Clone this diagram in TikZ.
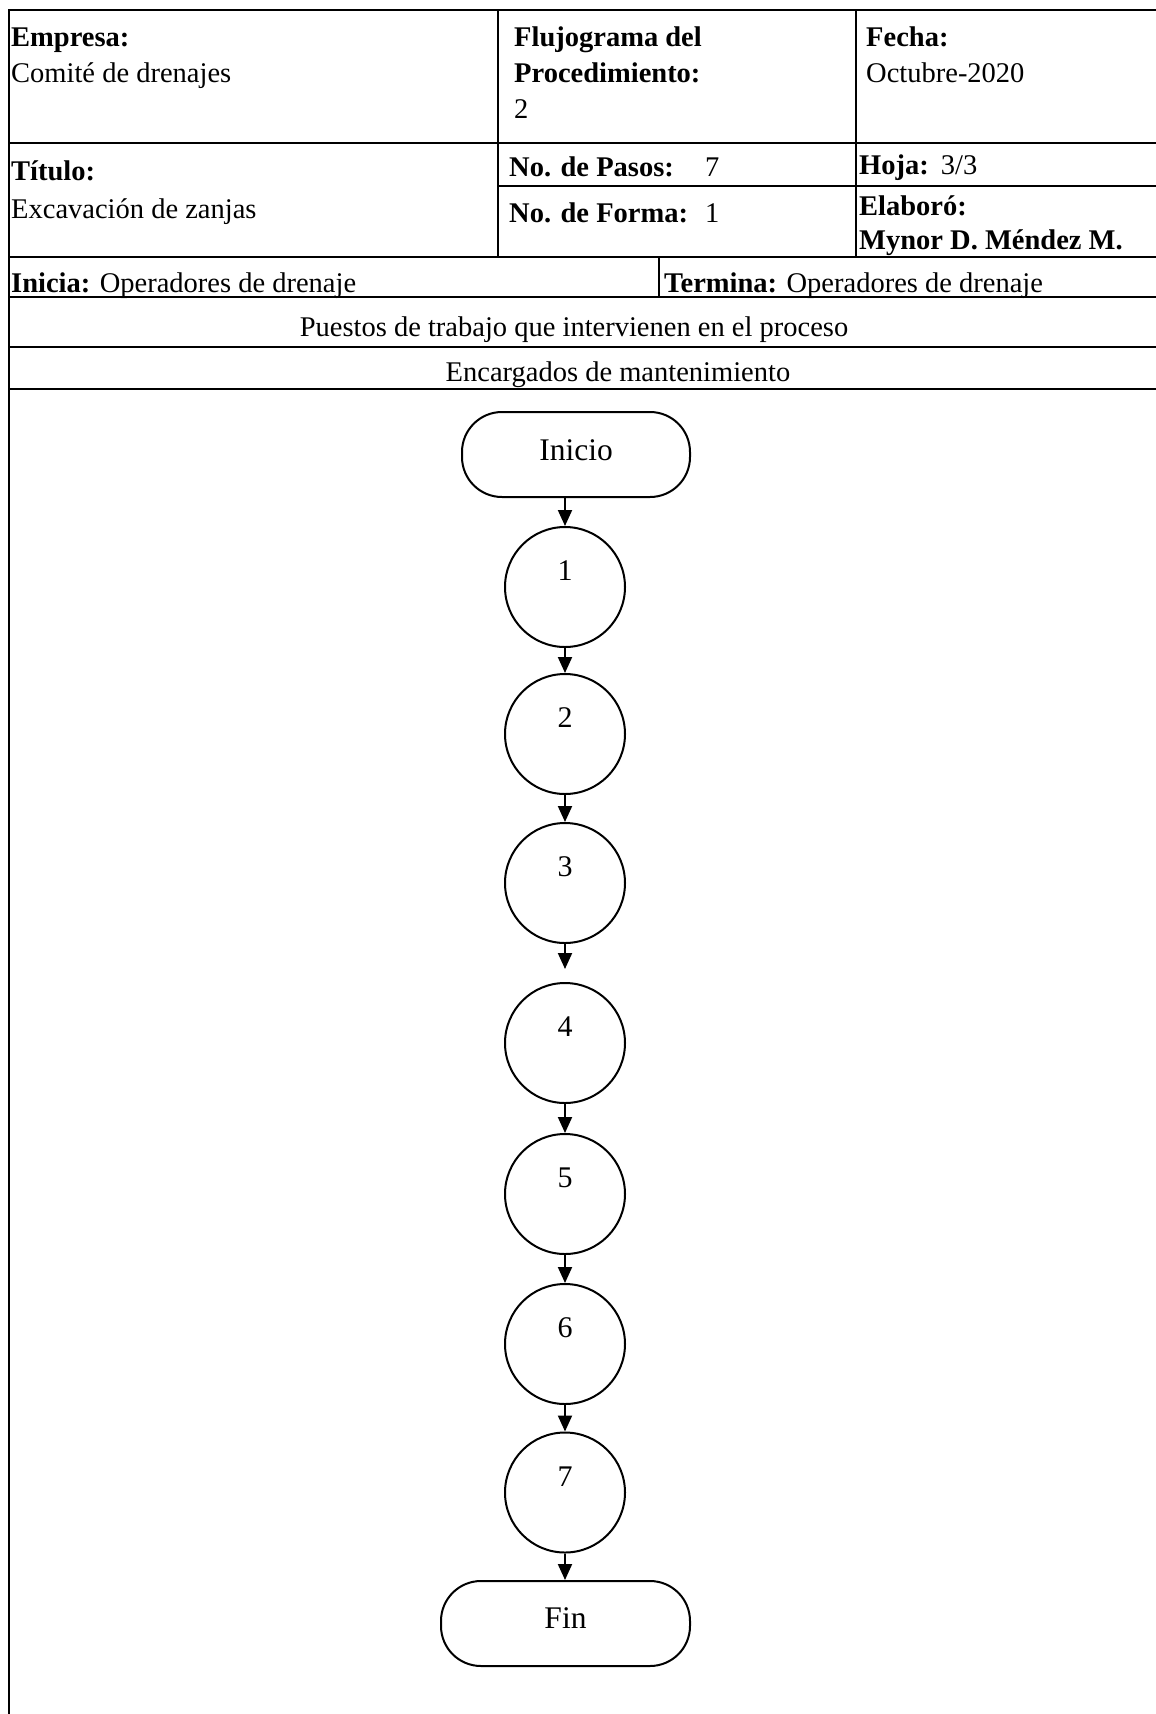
\documentclass[tikz,border=0pt]{standalone}
\usepackage{fontspec}
\setmainfont{Liberation Serif}
\usetikzlibrary{arrows.meta}
\begin{document}
\begin{tikzpicture}[x=1pt,y=-1pt,
  grid/.style={line width=2.4pt},
  txt/.style={anchor=base west, inner sep=0pt, font=\fontsize{28.5}{34}\selectfont},
  ctxt/.style={anchor=base, inner sep=0pt, font=\fontsize{28.5}{34}\selectfont},
  term/.style={draw, line width=2pt, rectangle, rounded corners=40pt, minimum width=228pt, minimum height=85pt, font=\fontsize{31.5}{36}\selectfont, text height=22pt, text depth=10pt},
  stepcircle/.style={draw, circle, line width=2pt, minimum size=120pt, inner sep=0pt},
  num/.style={font=\fontsize{30}{36}\selectfont, inner sep=0pt},
  flow/.style={line width=2pt, -{Triangle[length=16pt,width=14pt]}},
]
\useasboundingbox[fill=white] (0,0) rectangle (1156,1714);

% table lines
\draw[grid] (9,10) -- (1156,10);
\draw[grid] (9,143) -- (1156,143);
\draw[grid] (498,186) -- (1156,186);
\draw[grid] (9,257) -- (1156,257);
\draw[grid] (9,297) -- (1156,297);
\draw[grid] (9,347) -- (1156,347);
\draw[grid] (9,389) -- (1156,389);
\draw[grid] (9,9) -- (9,1714);
\draw[grid] (498,10) -- (498,257);
\draw[grid] (856,10) -- (856,257);
\draw[grid] (659,257) -- (659,297);

% header texts
\node[txt] (emp) at (11,46) {\textbf{Empresa:}};
\node[txt] (empv) at (11,82) {Comité de drenajes};
\node[txt] (flu) at (514,46) {\textbf{Flujograma del}};
\node[txt] (proc) at (514,82) {\textbf{Procedimiento:}};
\node[txt] (procv) at (514,118) {2};
\node[txt] (fec) at (866,46) {\textbf{Fecha:}};
\node[txt] (fecv) at (866,82) {Octubre-2020};
\node[txt] (tit) at (11,180) {\textbf{Título:}};
\node[txt] (titv) at (11,218) {Excavación de zanjas};
\node[txt] (pas) at (509,176) {\makebox[196pt][l]{\textbf{No. de Pasos:}}7};
\node[txt] (forma) at (509,222) {\makebox[196pt][l]{\textbf{No. de Forma:}}1};
\node[txt] (hoja) at (859,174) {\textbf{Hoja:}\hspace{12pt}3/3};
\node[txt] (elab) at (859,215) {\textbf{Elaboró:}};
\node[txt] (elabv) at (859,249) {\textbf{Mynor D. Méndez M.}};
\node[txt] (inicia) at (11,292) {\textbf{Inicia:} Operadores de drenaje};
\node[txt] (termina) at (664,292) {\textbf{Termina:} Operadores de drenaje};
\node[ctxt] (pue) at (574,336) {Puestos de trabajo que intervienen en el proceso};
\node[ctxt] (enc) at (618,381) {Encargados de mantenimiento};

% flowchart
\node[term] (start) at (576,454.5) {Inicio};
\node[stepcircle, label={[num, yshift=16pt]center:1}] (c1) at (565,587) {};
\node[stepcircle, label={[num, yshift=16pt]center:2}] (c2) at (565,734) {};
\node[stepcircle, label={[num, yshift=16pt]center:3}] (c3) at (565,883) {};
\node[stepcircle, label={[num, yshift=16pt]center:4}] (c4) at (565,1043) {};
\node[stepcircle, label={[num, yshift=16pt]center:5}] (c5) at (565,1194) {};
\node[stepcircle, label={[num, yshift=16pt]center:6}] (c6) at (565,1344) {};
\node[stepcircle, label={[num, yshift=16pt]center:7}] (c7) at (565,1492.5) {};
\node[term, minimum width=249pt, text height=20pt, text depth=10pt] (fin) at (565.5,1623.5) {Fin};

\draw[flow] (c1 |- start.south) -- (c1.north);
\draw[flow] (c1) -- (c2);
\draw[flow] (c2) -- (c3);
\draw[flow, shorten >=13pt] (c3) -- (c4);
\draw[flow] (c4) -- (c5);
\draw[flow] (c5) -- (c6);
\draw[flow] (c6) -- (c7);
\draw[flow] (c7.south) -- (c7 |- fin.north);
\end{tikzpicture}
\end{document}
